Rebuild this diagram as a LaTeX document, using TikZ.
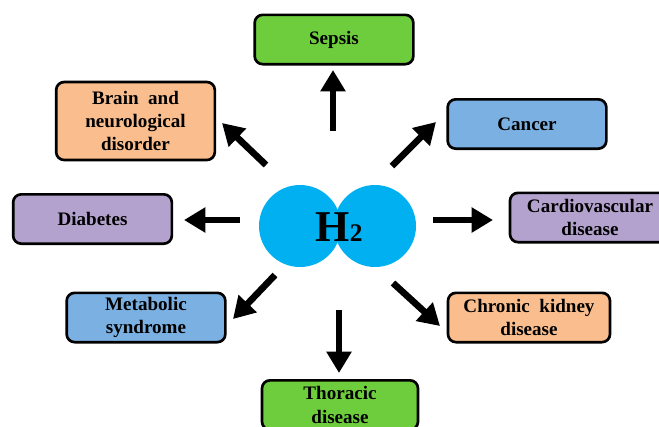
\documentclass[tikz,border=0pt]{standalone}
\usepackage{fontspec}
\setmainfont{Liberation Serif}
\usetikzlibrary{arrows.meta}
\definecolor{sgreen}{RGB}{110,205,60}
\definecolor{speach}{RGB}{250,190,142}
\definecolor{sblue}{RGB}{122,176,226}
\definecolor{spurple}{RGB}{180,162,206}
\definecolor{hcyan}{RGB}{0,176,240}
\begin{document}
\begin{tikzpicture}[x=0.75pt,y=-0.75pt,line join=round,
	box/.style={draw=black,line width=2pt,rounded corners=6pt,minimum width=119pt,minimum height=37pt,align=center,inner sep=2pt,font=\fontsize{14.3}{17.5}\selectfont\bfseries},
	bigarrow/.style={line width=5pt,-{Triangle[length=16pt,width=18pt]}}]
		\useasboundingbox (0,0) rectangle (659,426);
		\clip (0,0) rectangle (659,426);
		% molecule
		\node[circle,fill=hcyan,minimum size=61.5pt,inner sep=0pt] (hleft) at (300,226) {};
		\node[circle,fill=hcyan,minimum size=61.5pt,inner sep=0pt] (hright) at (375,226) {};
		\node (h2) at (339,227) {\bfseries\fontsize{33}{33}\selectfont H\fontsize{19}{19}\selectfont 2};
		% boxes
		\node[box,fill=sgreen] (sepsis) at (334,39.5) {Sepsis};
		\node[box,fill=speach,minimum height=58.5pt] (brain) at (135.5,121) {Brain~~and\\neurological\\disorder};
		\node[box,fill=sblue] (cancer) at (527,124) {Cancer};
		\node[box,fill=spurple,minimum width=120pt] (cardio) at (590,217.5) {Cardiovascular\\disease};
		\node[box,fill=spurple] (diabetes) at (92.5,219) {Diabetes};
		\node[box,fill=sblue] (metabolic) at (146,317.5) {Metabolic\\syndrome};
		\node[box,fill=speach,minimum width=121.5pt] (kidney) at (529,317.5) {Chronic~~kidney\\disease};
		\node[box,fill=sgreen,minimum width=117pt] (thoracic) at (340,405) {Thoracic\\disease};
		% arrows
		\coordinate (sepsis-t) at (333,131);    \coordinate (sepsis-h) at (333,70);
		\coordinate (brain-t) at (266,165);     \coordinate (brain-h) at (222,123);
		\coordinate (cancer-t) at (392,166);    \coordinate (cancer-h) at (436,122);
		\coordinate (diabetes-t) at (240,220);  \coordinate (diabetes-h) at (184,220);
		\coordinate (cardio-t) at (433,220);    \coordinate (cardio-h) at (493,220);
		\coordinate (metabolic-t) at (275,275); \coordinate (metabolic-h) at (233,319);
		\coordinate (kidney-t) at (393,283);    \coordinate (kidney-h) at (440,326);
		\coordinate (thoracic-t) at (339,310);  \coordinate (thoracic-h) at (339,373);
		\foreach \n in {sepsis,brain,cancer,diabetes,cardio,metabolic,kidney,thoracic}{\draw[bigarrow](\n-t)--(\n-h);}
		\end{tikzpicture}
\end{document}
